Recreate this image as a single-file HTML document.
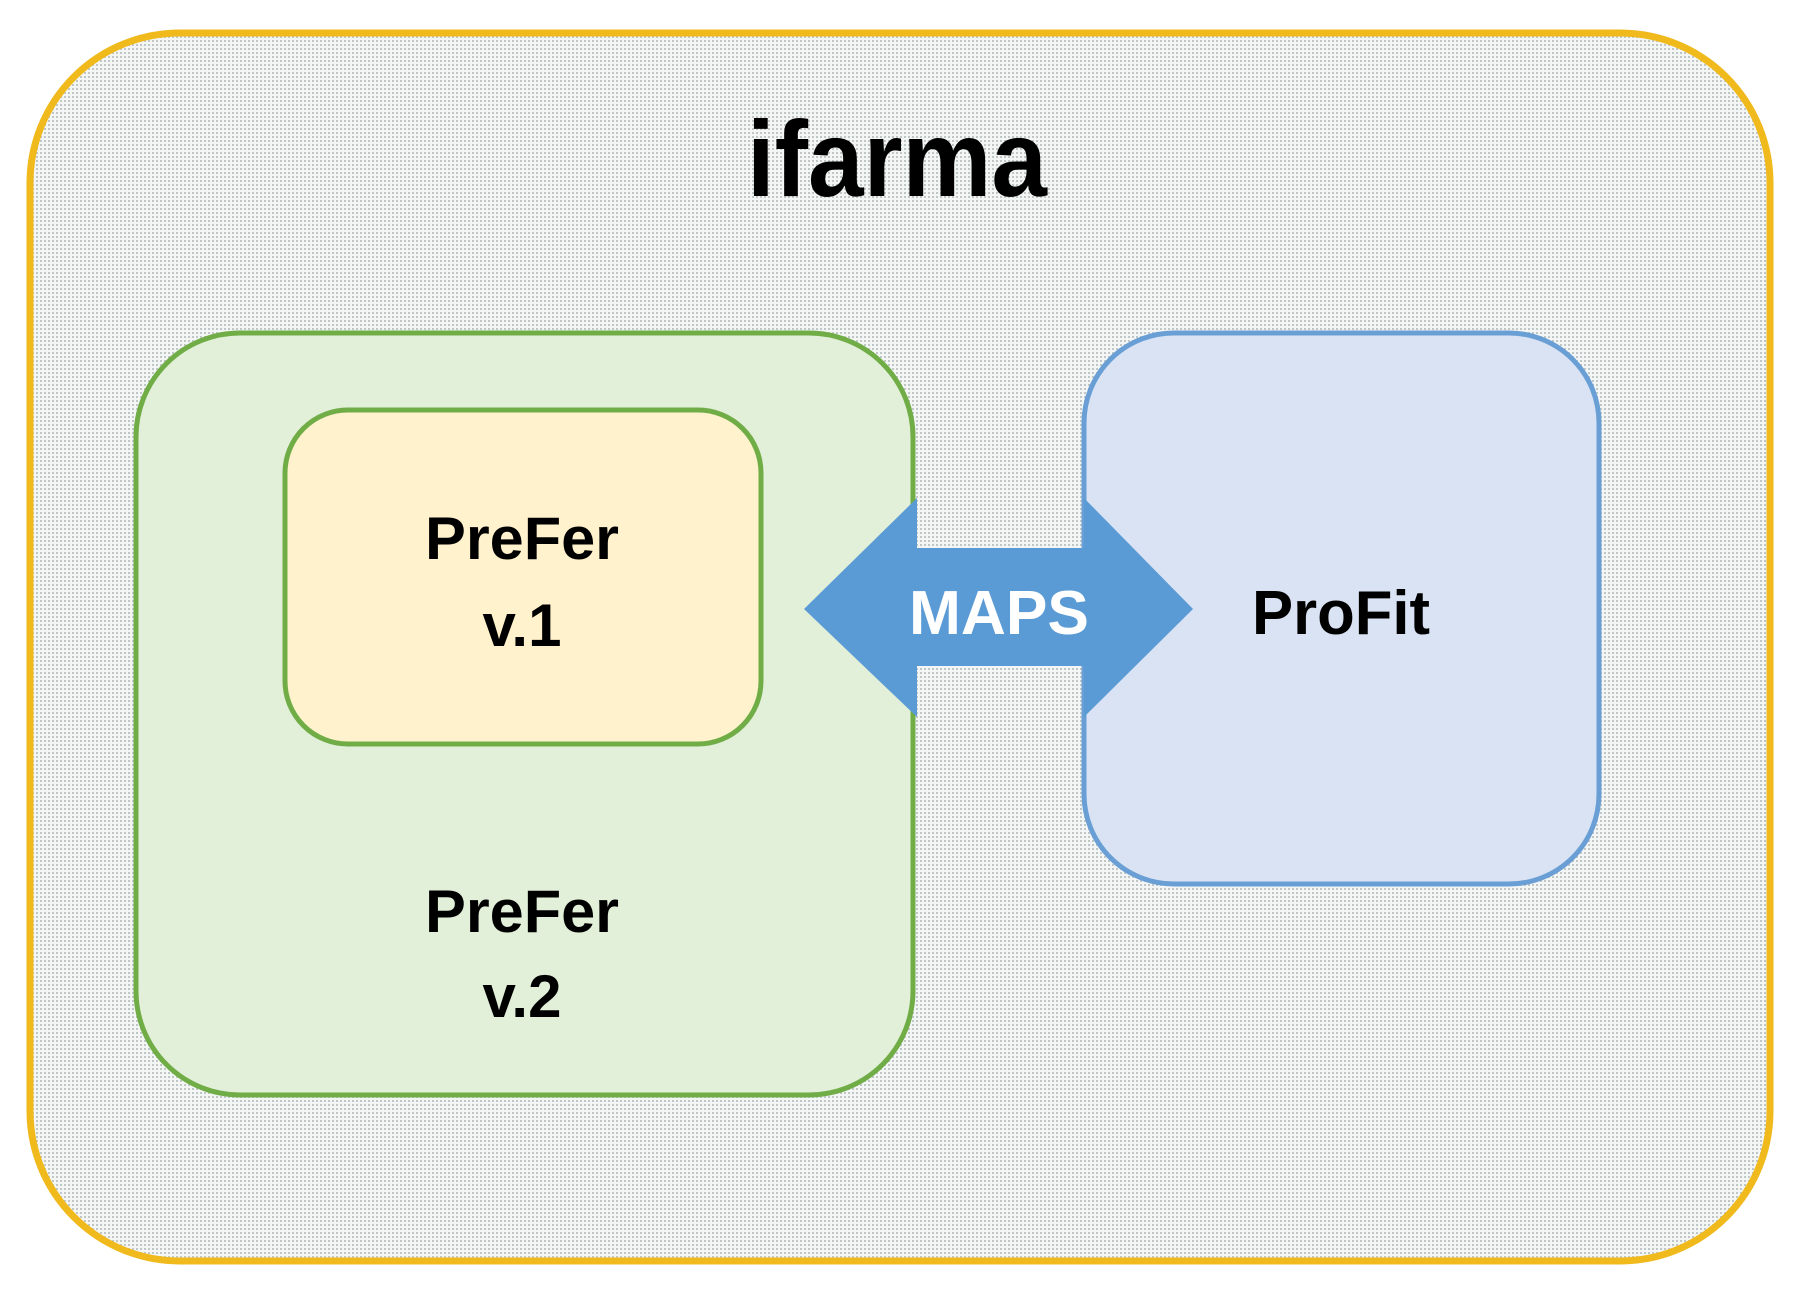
<!DOCTYPE html>
<html><head><meta charset="utf-8"><style>html,body{margin:0;padding:0;background:#fff}</style></head>
<body>
<svg width="1808" height="1302" xmlns="http://www.w3.org/2000/svg">
<defs>
<pattern id="dots" width="4" height="4" patternUnits="userSpaceOnUse">
<rect width="4" height="4" fill="#f4f6f6"/>
<rect width="2" height="2" fill="#bfc6c6"/>
</pattern>
</defs>
<rect x="0" y="0" width="1808" height="1302" fill="#fff"/>
<rect x="30" y="33" width="1740" height="1228" rx="150" fill="url(#dots)" stroke="#f0b91c" stroke-width="7"/>
<rect x="136" y="333" width="777" height="762" rx="104" fill="#e2efd9" stroke="#70ad47" stroke-width="5"/>
<rect x="285" y="410" width="476" height="334" rx="63" fill="#fff2cc" stroke="#70ad47" stroke-width="5"/>
<rect x="1084" y="333" width="515" height="551" rx="90" fill="#dae3f3" stroke="#6a9fd6" stroke-width="5"/>
<polygon points="804,609 917,498 917,548 1084,548 1084,498 1193,609 1084,717 1084,666 917,666 917,717" fill="#5b9bd5"/>
<g font-family="Liberation Sans, sans-serif" font-weight="bold" text-anchor="middle">
<text x="897" y="196" font-size="108" fill="#000" textLength="300" lengthAdjust="spacingAndGlyphs">ifarma</text>
<text x="522" y="559" font-size="60" fill="#000" textLength="194" lengthAdjust="spacingAndGlyphs">PreFer</text>
<text x="522" y="646" font-size="60" fill="#000">v.1</text>
<text x="522" y="932" font-size="60" fill="#000" textLength="194" lengthAdjust="spacingAndGlyphs">PreFer</text>
<text x="522" y="1017" font-size="60" fill="#000">v.2</text>
<text x="999" y="634" font-size="62" fill="#fff" textLength="180" lengthAdjust="spacingAndGlyphs">MAPS</text>
<text x="1341" y="634" font-size="62" fill="#000" textLength="178" lengthAdjust="spacingAndGlyphs">ProFit</text>
</g>
</svg>
</body></html>
